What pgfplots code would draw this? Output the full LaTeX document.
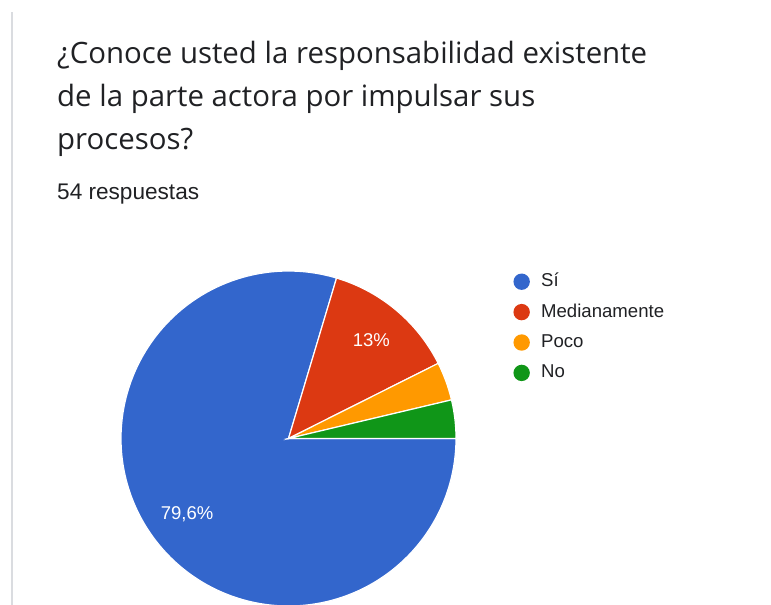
\documentclass[border=0pt]{standalone}
\usepackage{fontspec}
\usepackage{pgfplots}
\usepackage{pgfplotstable}
\pgfplotsset{compat=1.18}
\setmainfont{Liberation Sans}
\newfontfamily\titlefont{Open Sans}
\newfontfamily\bodyfont{Liberation Sans}
\definecolor{gblue}{HTML}{3366CC}
\definecolor{gred}{HTML}{DC3912}
\definecolor{gorange}{HTML}{FF9900}
\definecolor{ggreen}{HTML}{109618}
\definecolor{gtext}{HTML}{202124}
\definecolor{gline}{HTML}{DADCE0}

\pgfplotstableread{
label count
Sí 43
Medianamente 7
Poco 2
No 2
}\piedata

\begin{document}
\begin{tikzpicture}[x=1pt,y=1pt]
\path[use as bounding box] (0pt,0pt) rectangle (771pt,-605pt);
\begin{scope}
\clip (0pt,0pt) rectangle (771pt,-605pt);
\fill[gline] (10.5pt,-12pt) rectangle (12.5pt,-605pt);
\node[anchor=base west, inner sep=0pt, text=gtext, font=\titlefont\fontsize{29.4}{29.4}\selectfont] at (57pt,-63pt) {¿Conoce usted la responsabilidad existente};
\node[anchor=base west, inner sep=0pt, text=gtext, font=\titlefont\fontsize{29.4}{29.4}\selectfont] at (57pt,-106pt) {de la parte actora por impulsar sus};
\node[anchor=base west, inner sep=0pt, text=gtext, font=\titlefont\fontsize{29.4}{29.4}\selectfont] at (57pt,-149pt) {procesos?};
\node[anchor=base west, inner sep=0pt, text=gtext, font=\bodyfont\fontsize{22.6}{22.6}\selectfont] at (57pt,-199pt) {54 respuestas};
\pgfplotstablegetelem{0}{count}\of\piedata \edef\nA{\pgfplotsretval}
\pgfplotstablegetelem{1}{count}\of\piedata \edef\nB{\pgfplotsretval}
\pgfplotstablegetelem{2}{count}\of\piedata \edef\nC{\pgfplotsretval}
\pgfplotstablegetelem{3}{count}\of\piedata \edef\nD{\pgfplotsretval}
\pgfmathsetmacro\total{\nA+\nB+\nC+\nD}
\pgfmathsetmacro\aD{\nD/\total*360}
\pgfmathsetmacro\aC{\aD+\nC/\total*360}
\pgfmathsetmacro\aB{\aC+\nB/\total*360}
\pgfmathsetmacro\mA{(\aB+360)/2}
\pgfmathsetmacro\mB{(\aC+\aB)/2}
\begin{axis}[at={(288.5pt,-438.5pt)}, anchor=center,
  x=167.5pt, y=167.5pt, xmin=-1, xmax=1, ymin=-1, ymax=1,
  hide axis, clip=false,
  legend cell align=left,
  legend image code/.code={\fill[#1, draw=none] (0pt,-0.5pt) circle (8.2pt); \path[draw=none, fill=none] (0pt,-0.5pt) -- (19.5pt,-0.5pt);},
  legend style={draw=none, fill=none, inner sep=0pt, outer sep=0pt,
    at={(axis cs:1.343,0.985)}, anchor=north west,
    font=\bodyfont\fontsize{18.6}{18.6}\selectfont, text=gtext,
    row sep=14pt,
    nodes={inner sep=0pt, text height=13pt, text depth=2pt},
    /tikz/every even column/.append style={column sep=0pt}},
]
\addplot[fill=gblue, draw=white, line width=1.2pt, domain=\aB:360, samples=150] ({cos(x)},{sin(x)}) -- (axis cs:0,0) -- cycle;
\addlegendentry{Sí}
\addplot[fill=gred, draw=white, line width=1.2pt, domain=\aC:\aB, samples=40] ({cos(x)},{sin(x)}) -- (axis cs:0,0) -- cycle;
\addlegendentry{Medianamente}
\addplot[fill=gorange, draw=white, line width=1.2pt, domain=\aD:\aC, samples=20] ({cos(x)},{sin(x)}) -- (axis cs:0,0) -- cycle;
\addlegendentry{Poco}
\addplot[fill=ggreen, draw=white, line width=1.2pt, domain=0:\aD, samples=20] ({cos(x)},{sin(x)}) -- (axis cs:0,0) -- cycle;
\addlegendentry{No}
\node[text=white, font=\bodyfont\fontsize{18.5}{18.5}\selectfont] at (axis cs:{0.755*cos(\mA)},{0.755*sin(\mA)}) {79,6\%};
\node[text=white, font=\bodyfont\fontsize{18.5}{18.5}\selectfont] at (axis cs:{0.77*cos(\mB)},{0.77*sin(\mB)}) {13\%};
\end{axis}
\end{scope}
\end{tikzpicture}
\end{document}
